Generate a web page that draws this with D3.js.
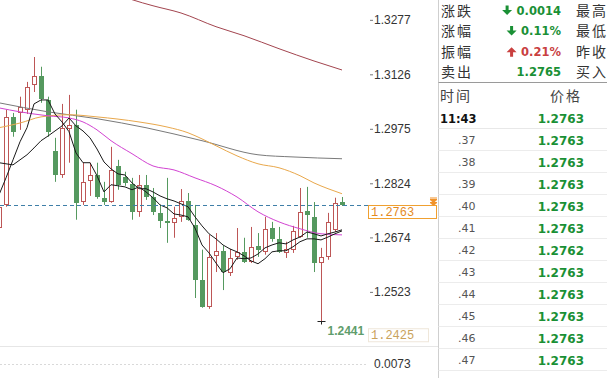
<!DOCTYPE html>
<html>
<head>
<meta charset="utf-8">
<script src="https://cdn.jsdelivr.net/npm/d3@7"></script>
<style>
  body { margin: 0; background: #fff; overflow: hidden; }
  svg { display: block; }
</style>
</head>
<body>
<div id="chart"></div>
<script>
// ---- candle data (index 1..50, left to right) ----
const opens = [1.2700,1.2764,1.3008,1.3019,1.3028,1.3097,1.3122,1.3055,1.2914,1.2847,
  1.2975,1.2986,1.2772,1.2831,1.2847,1.2784,1.2772,1.2872,1.2842,1.2822,
  1.2745,1.2820,1.2786,1.2742,1.2720,1.2714,1.2731,1.2775,1.2709,1.2556,
  1.2481,1.2623,1.2637,1.2575,1.2620,1.2634,1.2606,1.2651,1.2634,1.2700,
  1.2670,1.2631,1.2640,1.2675,1.2747,1.2731,1.2603,1.2620,1.2695,1.2772];
const highs = [1.2764,1.3028,1.3019,1.3064,1.3105,1.3174,1.3147,1.3064,1.2950,1.3044,
  1.3069,1.3028,1.2881,1.2881,1.2881,1.2828,1.2925,1.2889,1.2856,1.2839,
  1.2847,1.2847,1.2811,1.2764,1.2839,1.2759,1.2808,1.2797,1.2764,1.2640,
  1.2681,1.2686,1.2651,1.2642,1.2700,1.2673,1.2703,1.2686,1.2731,1.2717,
  1.2703,1.2662,1.2706,1.2811,1.2814,1.2772,1.2645,1.2742,1.2784,1.2786];
const lows = [1.2689,1.2759,1.2953,1.2972,1.3016,1.3077,1.3047,1.2953,1.2828,1.2839,
  1.2881,1.2723,1.2764,1.2789,1.2781,1.2764,1.2770,1.2806,1.2817,1.2723,
  1.2731,1.2778,1.2736,1.2700,1.2659,1.2673,1.2717,1.2720,1.2506,1.2479,
  1.2476,1.2578,1.2528,1.2567,1.2612,1.2603,1.2603,1.2620,1.2626,1.2662,
  1.2631,1.2617,1.2631,1.2673,1.2673,1.2578,1.2441,1.2612,1.2689,1.2761];
const closes = [1.2759,1.3008,1.2966,1.3036,1.3091,1.3122,1.3058,1.2966,1.2847,1.2978,
  1.2986,1.2770,1.2828,1.2847,1.2786,1.2772,1.2861,1.2820,1.2825,1.2745,
  1.2820,1.2786,1.2745,1.2720,1.2714,1.2728,1.2775,1.2723,1.2556,1.2481,
  1.2620,1.2637,1.2578,1.2617,1.2634,1.2606,1.2648,1.2640,1.2698,1.2670,
  1.2634,1.2642,1.2692,1.2745,1.2736,1.2603,1.2620,1.2717,1.2770,1.2763];

// moving averages, one value per candle
const ma5 = [1.2792,1.2839,1.2889,1.2939,1.2978,1.3044,1.3055,1.3055,1.3016,1.2994,
  1.2967,1.2908,1.2881,1.2881,1.2845,1.2800,1.2820,1.2817,1.2814,1.2806,
  1.2814,1.2800,1.2784,1.2764,1.2756,1.2739,1.2736,1.2731,1.2700,1.2653,
  1.2631,1.2603,1.2576,1.2587,1.2617,1.2615,1.2617,1.2628,1.2645,1.2653,
  1.2659,1.2656,1.2667,1.2675,1.2689,1.2684,1.2678,1.2684,1.2689,1.2695];
const ma10 = [1.2881,1.2878,1.2875,1.2889,1.2903,1.2922,1.2942,1.2955,1.2969,1.2983,
  1.3005,1.2983,1.2969,1.2950,1.2919,1.2883,1.2864,1.2850,1.2847,1.2825,
  1.2809,1.2809,1.2800,1.2789,1.2781,1.2775,1.2767,1.2759,1.2731,1.2706,
  1.2684,1.2670,1.2653,1.2642,1.2634,1.2623,1.2609,1.2601,1.2615,1.2634,
  1.2637,1.2637,1.2648,1.2662,1.2670,1.2670,1.2667,1.2675,1.2684,1.2692];
// slower averages read at a few candles: [index, price]
const maPink = [[1,1.3033],[4,1.3022],[8,1.3011],[11,1.3005],[13,1.2994],[15,1.2972],[17,1.2942],
  [20,1.2906],[23,1.2872],[26,1.2861],[29,1.2839],[32,1.2817],[35,1.2786],[38,1.2745],
  [41,1.2717],[44,1.2698],[47,1.2684],[50,1.2681]];
const maOrange = [[1,1.2978],[4,1.2991],[7,1.3008],[11,1.3014],[15,1.3008],[21,1.2994],[25,1.2980],
  [28,1.2964],[30,1.2947],[32,1.2928],[35,1.2900],[38,1.2878],[41,1.2867],[44,1.2845],
  [46,1.2825],[48,1.2809],[50,1.2795]];
const maGray = [[1,1.3047],[8,1.3022],[15,1.3003],[22,1.2978],[30,1.2942],[38,1.2903],[43,1.2897],[50,1.2892]];
const maDark = [[18,1.3347],[20,1.3333],[23,1.3316],[27,1.3296],[32,1.3258],[36,1.3233],[41,1.3197],[46,1.3163],[50,1.3138]];

const priceTicks = [1.3277, 1.3126, 1.2975, 1.2824, 1.2674, 1.2523];
const lastPrice = 1.2763;
const lowPrice = 1.2441, lowIndex = 47;
const markPrice = 1.2425;
const indicatorTicks = [0.0073];

// quote panel
const quoteLabels = ["涨跌", "涨幅", "振幅", "卖出"];
const quoteValues = ["0.0014", "0.11%", "0.21%", "1.2765"];
const quoteDirs = ["down", "down", "up", ""];
const quoteRight = ["最高", "最低", "昨收", "买入"];
const tradeTimes = [".37", ".38", ".39", ".40", ".41", ".42", ".43", ".44", ".45", ".46", ".47"];
const tradePrices = ["1.2763", "1.2763", "1.2763", "1.2763", "1.2763", "1.2762", "1.2763", "1.2763", "1.2763", "1.2763", "1.2763"];

const upColor = "#bd5656", downColor = "#55995f";
const green = "#1a9035", red = "#c9403f";
const latin = "'Liberation Sans', Arial, sans-serif";
const bold = "'DejaVu Sans', sans-serif";
const cjk = "'Noto Sans CJK SC', sans-serif";

const W = 607, H = 378;
const paneBottom = 346;
const axisX = 370;
const sepX = 438.5;

const svg = d3.select("#chart").append("svg")
  .attr("width", W)
  .attr("height", H);

const x = d3.scaleLinear().domain([1, 50]).range([-1, 342]);
const y = d3.scaleLinear().domain([1.2373, 1.3332]).range([paneBottom, 0]);

// candles
const candles = opens.map((o, k) => ({ i: k + 1, o: o, h: highs[k], l: lows[k], c: closes[k] }));
const gCandle = svg.append("g");

gCandle.selectAll(".wick")
  .data(candles)
  .enter().append("line")
  .attr("class", "wick")
  .attr("x1", d => Math.round(x(d.i)) + 0.5)
  .attr("x2", d => Math.round(x(d.i)) + 0.5)
  .attr("y1", d => y(d.h))
  .attr("y2", d => y(d.l))
  .attr("stroke", d => d.c >= d.o ? upColor : downColor);

gCandle.selectAll(".body")
  .data(candles)
  .enter().append("rect")
  .attr("class", "body")
  .each(function (d) {
    const cx = Math.round(x(d.i));
    const top = Math.round(y(Math.max(d.o, d.c)));
    const bot = Math.round(y(Math.min(d.o, d.c)));
    const sel = d3.select(this);
    if (d.c >= d.o) {
      sel.attr("x", cx - 1.5).attr("y", top + 0.5)
        .attr("width", 4).attr("height", Math.max(bot - top - 1, 1))
        .attr("fill", "#fff").attr("stroke", upColor);
    } else {
      sel.attr("x", cx - 2).attr("y", top)
        .attr("width", 5).attr("height", Math.max(bot - top, 1))
        .attr("fill", downColor);
    }
  });

// moving average lines
const lineFn = d3.line().x(d => x(d[0])).y(d => y(d[1]));
const smoothFn = d3.line().x(d => x(d[0])).y(d => y(d[1])).curve(d3.curveMonotoneX);

const maLines = [
  { pts: maDark, color: "#a3454f", fn: smoothFn },
  { pts: maGray, color: "#7a7a7a", fn: smoothFn },
  { pts: maOrange, color: "#e9a84c", fn: smoothFn },
  { pts: maPink, color: "#d243d2", fn: smoothFn },
  { pts: ma10.map((v, k) => [k + 1, v]), color: "#1a1a1a", fn: lineFn },
  { pts: ma5.map((v, k) => [k + 1, v]), color: "#1a1a1a", fn: lineFn }
];
maLines.forEach(m => {
  svg.append("path")
    .datum(m.pts)
    .attr("d", m.fn)
    .attr("fill", "none")
    .attr("stroke", m.color)
    .attr("stroke-width", 1);
});

// current price line + box
const yLast = Math.round(y(lastPrice)) + 0.5;
svg.append("line")
  .attr("x1", 0).attr("x2", 368)
  .attr("y1", yLast).attr("y2", yLast)
  .attr("stroke", "#3f7fa8")
  .attr("stroke-dasharray", "4,3");

svg.append("rect")
  .attr("x", 368.5).attr("y", yLast)
  .attr("width", 68).attr("height", 13)
  .attr("fill", "#fff").attr("stroke", "#f0a030");
svg.append("text")
  .attr("x", 371).attr("y", yLast + 6.5).attr("dy", "0.35em")
  .style("font-family", "'Liberation Mono', monospace").style("font-size", "12px")
  .attr("fill", "#e48a1e")
  .text(d3.format(".4f")(lastPrice));
// little double arrow marker above the box
svg.append("path")
  .attr("d", `M430,${yLast - 7.5}h7 M430,${yLast - 6}l3.5,3l3.5,-3z M430,${yLast - 3}l3.5,3l3.5,-3z`)
  .attr("stroke", "#f0922a").attr("fill", "#f0922a").attr("stroke-width", 1);

// low marker
const lowX = Math.round(x(lowIndex)) + 0.5;
const lowY = Math.round(y(lowPrice)) + 0.5;
svg.append("line")
  .attr("x1", lowX - 4).attr("x2", lowX + 4)
  .attr("y1", lowY).attr("y2", lowY)
  .attr("stroke", "#222");
svg.append("line")
  .attr("x1", lowX).attr("x2", lowX)
  .attr("y1", lowY).attr("y2", lowY + 3)
  .attr("stroke", "#222");
svg.append("text")
  .attr("x", lowX + 6).attr("y", lowY + 9).attr("dy", "0.35em")
  .style("font-family", latin).style("font-weight", "bold").style("font-size", "12px")
  .attr("fill", "#5f9d6c")
  .text(d3.format(".4f")(lowPrice));

// marked level label at the bottom of the price pane
const yMark = y(markPrice);
svg.append("rect")
  .attr("x", 368.5).attr("y", yMark + 1.5)
  .attr("width", 60).attr("height", 13)
  .attr("fill", "#fff").attr("stroke", "#efe7da");
svg.append("text")
  .attr("x", 371).attr("y", yMark + 8).attr("dy", "0.35em")
  .style("font-family", "'Liberation Mono', monospace").style("font-size", "12px")
  .attr("fill", "#c9a25c")
  .text(d3.format(".4f")(markPrice));

// price axis
const yAxis = d3.axisRight(y)
  .tickValues(priceTicks)
  .tickFormat(d3.format(".4f"))
  .tickSize(3)
  .tickPadding(1);
svg.append("g")
  .attr("transform", `translate(${axisX},0)`)
  .call(yAxis)
  .call(g => g.select(".domain").remove())
  .call(g => g.selectAll(".tick line").attr("stroke", "#777"))
  .call(g => g.selectAll(".tick text")
    .attr("fill", "#333")
    .style("font-family", latin)
    .style("font-size", "12px"));

// lower indicator pane
svg.append("line")
  .attr("x1", 0).attr("x2", sepX)
  .attr("y1", paneBottom + 0.5).attr("y2", paneBottom + 0.5)
  .attr("stroke", "#e6e6e6");
const yInd = d3.scaleLinear().domain([0, 0.0073]).range([392, 364]);
svg.append("line")
  .attr("x1", 0).attr("x2", 368)
  .attr("y1", yInd(indicatorTicks[0]) + 0.5).attr("y2", yInd(indicatorTicks[0]) + 0.5)
  .attr("stroke", "#d9d9d9")
  .attr("stroke-dasharray", "2,2");
svg.append("g")
  .attr("transform", `translate(${axisX},0)`)
  .call(d3.axisRight(yInd).tickValues(indicatorTicks).tickFormat(d3.format(".4f")).tickSize(0).tickPadding(4))
  .call(g => g.select(".domain").remove())
  .call(g => g.selectAll(".tick text")
    .attr("fill", "#333")
    .style("font-family", latin)
    .style("font-size", "12px"));

// separator between chart and quote panel
svg.append("line")
  .attr("x1", sepX).attr("x2", sepX)
  .attr("y1", 0).attr("y2", H)
  .attr("stroke", "#cfcfcf");

// ---- quote panel ----
const panelX = 441;
const rowY = k => 10.5 + 20.6 * k;

function cjkText(tx, ty, t, color) {
  return svg.append("text")
    .attr("x", tx).attr("y", ty).attr("dy", "0.36em")
    .style("font-family", cjk).style("font-size", "14px")
    .style("letter-spacing", "2px")
    .attr("fill", color)
    .text(t);
}

quoteLabels.forEach((t, k) => {
  cjkText(panelX, rowY(k), t, "#333");
  cjkText(576, rowY(k), quoteRight[k], "#333");

  const col = quoteDirs[k] === "up" ? red : green;
  const val = svg.append("text")
    .attr("x", 561).attr("y", rowY(k)).attr("dy", "0.36em")
    .attr("text-anchor", "end")
    .style("font-family", bold).style("font-weight", "bold").style("font-size", "11.5px")
    .attr("fill", col)
    .text(quoteValues[k]);

  if (quoteDirs[k]) {
    const left = 561 - val.node().getComputedTextLength();
    const ax = left - 9.5;
    const ay = rowY(k);
    const d = quoteDirs[k] === "down"
      ? `M${ax - 1.5},${ay - 5}h3v4.5h3.5l-5,5l-5,-5h3.5z`
      : `M${ax - 1.5},${ay + 5}h3v-4.5h3.5l-5,-5l-5,5h3.5z`;
    svg.append("path").attr("d", d).attr("fill", col);
  }
});

svg.append("line")
  .attr("x1", sepX).attr("x2", W)
  .attr("y1", 82.5).attr("y2", 82.5)
  .attr("stroke", "#9a9a9a");

cjkText(440, 96, "时间", "#444");
cjkText(550, 96, "价格", "#444");

svg.append("text")
  .attr("x", 440).attr("y", 118.5).attr("dy", "0.36em")
  .style("font-family", bold).style("font-weight", "bold").style("font-size", "11.5px")
  .attr("fill", "#111")
  .text("11:43");
svg.append("text")
  .attr("x", 584).attr("y", 118.5).attr("dy", "0.36em")
  .attr("text-anchor", "end")
  .style("font-family", bold).style("font-weight", "bold").style("font-size", "12px")
  .attr("fill", green)
  .text(d3.format(".4f")(lastPrice));

svg.append("line")
  .attr("x1", sepX).attr("x2", W)
  .attr("y1", 128.5).attr("y2", 128.5)
  .attr("stroke", "#e8e8e8");

tradeTimes.forEach((t, k) => {
  const cy = 140 + 22 * k;
  svg.append("text")
    .attr("x", 458).attr("y", cy).attr("dy", "0.35em")
    .style("font-family", bold).style("font-size", "11px")
    .attr("fill", "#555")
    .text(t);
  svg.append("text")
    .attr("x", 584).attr("y", cy + 1).attr("dy", "0.36em")
    .attr("text-anchor", "end")
    .style("font-family", bold).style("font-weight", "bold").style("font-size", "12px")
    .attr("fill", green)
    .text(tradePrices[k]);
  svg.append("line")
    .attr("x1", sepX).attr("x2", W)
    .attr("y1", 150.5 + 22 * k).attr("y2", 150.5 + 22 * k)
    .attr("stroke", "#ececec");
});
</script>
</body>
</html>
